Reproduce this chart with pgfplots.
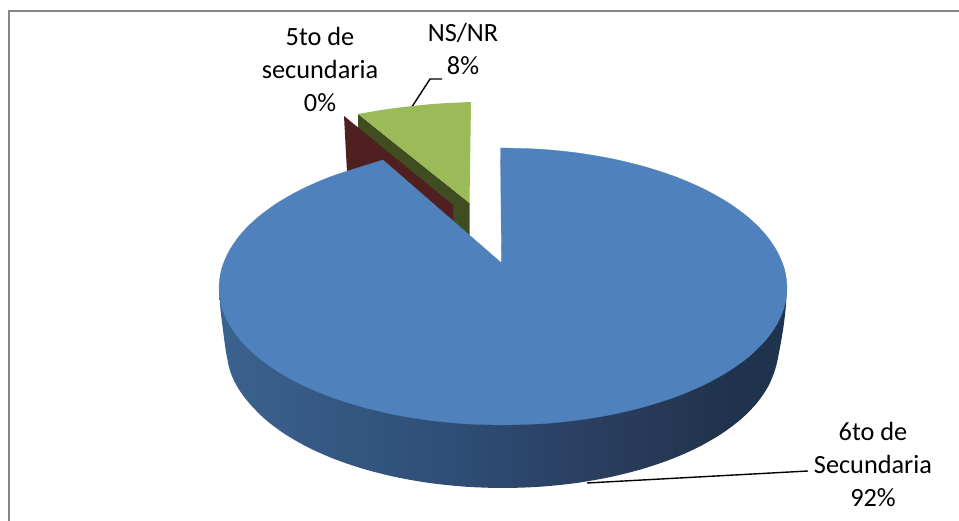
\documentclass[border=0pt]{standalone}
\usepackage{pgfplots}
\pgfplotsset{compat=1.18}
\usepackage{fontspec}
\setmainfont{Carlito}
\definecolor{sliceblue}{HTML}{4F81BD}
\definecolor{slicegreen}{HTML}{9BBB59}
\definecolor{wallgreen}{HTML}{3F4D21}
\definecolor{wallred}{HTML}{4F201F}
\definecolor{framegray}{HTML}{868686}
\definecolor{wa}{HTML}{4878B2}
\definecolor{wb}{HTML}{4472A8}
\definecolor{wc}{HTML}{3E6794}
\definecolor{wd}{HTML}{30507A}
\definecolor{wg}{HTML}{293C5C}
\definecolor{we}{HTML}{20334C}
\definecolor{wf}{HTML}{1E314B}
\pgfdeclarehorizontalshading{wallshade}{100bp}{
 color(0bp)=(wa);
 color(10bp)=(wb);
 color(20bp)=(wc);
 color(43bp)=(wd);
 color(60bp)=(wg);
 color(70bp)=(we);
 color(100bp)=(wf)}
\tikzset{lab/.style={font=\fontsize{26.3}{33}\selectfont, text=black, align=center, inner sep=0pt}}
\begin{document}
\begin{tikzpicture}
\useasboundingbox (0,0) rectangle (959pt,521pt);
\begin{axis}[
  at={(0,0)}, anchor=south west,
  width=959pt, height=521pt, scale only axis,
  xmin=0, xmax=959, ymin=0, ymax=521, y dir=reverse,
  hide axis,
]
% frame
\addplot[draw=framegray, line width=2pt] coordinates {(9,521) (9,11) (959,11)};
% green wall and maroon wall, exploded slices
\addplot[draw=none, fill=wallgreen] coordinates {(358,114) (469.5,203) (469.5,240) (358,150)} --cycle;
\addplot[draw=none, fill=wallred] coordinates {(344,116) (453,205) (453,240) (347,172)} --cycle;
% green top
\addplot[draw=none, fill=slicegreen, smooth] coordinates {(358,114) (385,109.5) (412,106) (440,103.5) (471,102)} -- (axis cs:469.5,203) --cycle;
% blue wall
\addplot[draw=none, shading=wallshade, smooth] coordinates {
 (219,288) (220.5,310) (223,330) (226,352) (230.4,372) (238,388) (248.9,402.8) (264.8,419) (284.8,434) (308.5,447.6)
 (335.6,459.5) (365.5,469.5) (397.8,477.5) (431.8,483.3) (467.1,486.8) (503,488)
 (538.9,486.8) (574.2,483.3) (608.2,477.5) (640.5,469.5) (670.4,459.5) (697.5,447.6) (721.2,434) (741.2,419)
 (757.1,402.8) (768.6,385.7) (775.6,368) (779.5,350) (783,330) (785.5,310) (787,288)} --cycle;
% blue top: right half, left part, and the wedge between them
\addplot[draw=sliceblue, line width=0.3pt, fill=sliceblue, smooth] coordinates {
 (503,148) (540.1,149.2) (576.5,152.8) (611.7,158.7) (645,166.8) (675.9,176.9) (703.8,189)
 (728.3,202.8) (749,218) (765.4,234.4) (777.3,251.8) (784.6,269.7) (787,288)
 (784.6,305.9) (777.3,323.5) (765.4,340.4) (749,356.5) (728.3,371.4) (703.8,384.9) (675.9,396.7)
 (645,406.6) (611.7,414.6) (576.5,420.3) (540.1,423.8) (503,425)} --cycle;
\addplot[draw=sliceblue, line width=0.3pt, fill=sliceblue, smooth] coordinates {
 (503,425) (465.9,423.8) (429.5,420.3) (394.3,414.6) (361,406.6) (330.1,396.7) (302.2,384.9) (277.7,371.4)
 (257,356.5) (240.6,340.4) (228.7,323.5) (221.4,305.9) (219,288)
 (221.4,269.7) (228.7,251.8) (240.6,234.4) (257,218) (277.7,202.8) (302.2,189) (330.1,176.9) (361,166.8) (383,160)} --cycle;
\addplot[draw=sliceblue, line width=0.3pt, fill=sliceblue] coordinates {(383,160) (501.5,263) (500.5,148) (503,148) (503,425)} --cycle;
% leader lines
\addplot[draw=black, line width=1.4pt] coordinates {(412.5,106) (430,79) (442,79)};
\addplot[draw=black, line width=1.4pt] coordinates {(587,483) (808,471)};
% labels
\node[lab] at (axis cs:320,69.5) {5to de\\secundaria\\0\%};
\node[lab] at (axis cs:463,49) {NS/NR\\8\%};
\node[lab] at (axis cs:873,464) {6to de\\Secundaria\\92\%};
\end{axis}
\end{tikzpicture}
\end{document}
